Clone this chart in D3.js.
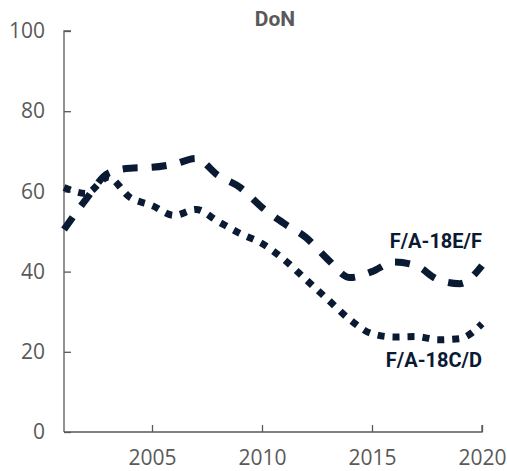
<!DOCTYPE html>
<html>
<head>
<meta charset="utf-8">
<script src="https://cdn.jsdelivr.net/npm/d3@7"></script>
<style>
    body { margin: 0; background: #fff; }
    svg { display: block; }
    .axis path, .axis line { stroke: #595959; stroke-width: 1.3; }
    .axis text { fill: #595959; font-family: "Open Sans", sans-serif; font-size: 21px; }
</style>
</head>
<body>
<svg id="chart" width="507" height="471"></svg>
<script>
const years = [2001, 2002, 2003, 2004, 2005, 2006, 2007, 2008, 2009, 2010,
    2011, 2012, 2013, 2014, 2015, 2016, 2017, 2018, 2019, 2020];
const efValues = [50.5, 58, 64.5, 65.8, 66, 66.8, 68.2, 64, 61, 56,
    52, 48.5, 43, 38.5, 40, 42.4, 41.5, 38, 37, 41.5];
const cdValues = [61, 59.5, 63.5, 58.5, 56.5, 54, 55.5, 52.5, 49.5, 47,
    43, 38, 33, 28, 24.5, 23.7, 23.8, 23, 23.3, 27];
const xTicks = [2005, 2010, 2015, 2020];
const yTicks = [0, 20, 40, 60, 80, 100];

const navy = "#0b1a33";

const margin = { top: 31, right: 25, bottom: 39, left: 64 };
const svg = d3.select("#chart");
const width = +svg.attr("width") - margin.left - margin.right;
const height = +svg.attr("height") - margin.top - margin.bottom;

const chartArea = svg.append("g")
    .attr("transform", `translate(${margin.left},${margin.top})`);

const xScale = d3.scaleLinear().domain([2001, 2020]).range([0, width]);
const yScale = d3.scaleLinear().domain([0, 100]).range([height, 0]);

const xAxis = d3.axisBottom(xScale)
    .tickValues(xTicks)
    .tickFormat(d3.format("d"))
    .tickSizeInner(-7)
    .tickSizeOuter(0)
    .tickPadding(18);
const yAxis = d3.axisLeft(yScale)
    .tickValues(yTicks)
    .tickSizeInner(-7)
    .tickSizeOuter(0)
    .tickPadding(19);

chartArea.append("g")
    .attr("class", "axis x-axis")
    .attr("transform", `translate(0, ${height})`)
    .call(xAxis);

chartArea.append("g")
    .attr("class", "axis y-axis")
    .call(yAxis);

// y axis top tick has a small cap
chartArea.select(".y-axis .domain").attr("d", `M7,0H0V${height}`);
chartArea.select(".x-axis .domain").attr("d", `M0,0H${width}V-7`);

const line = d3.line()
    .x((d, i) => xScale(years[i]))
    .y(d => yScale(d))
    .curve(d3.curveMonotoneX);

chartArea.append("path")
    .datum(efValues)
    .attr("fill", "none")
    .attr("stroke", navy)
    .attr("stroke-width", 7)
    .attr("stroke-dasharray", "15,14")
    .attr("d", line);

chartArea.append("path")
    .datum(cdValues)
    .attr("fill", "none")
    .attr("stroke", navy)
    .attr("stroke-width", 7)
    .attr("stroke-dasharray", "7,8")
    .attr("d", line);

svg.append("text")
    .attr("x", 275)
    .attr("y", 26)
    .attr("text-anchor", "middle")
    .attr("fill", "#595959")
    .attr("font-family", "Roboto, sans-serif")
    .attr("font-weight", "bold")
    .attr("font-size", 21)
    .text("DoN");

svg.append("text")
    .attr("x", 482)
    .attr("y", 248)
    .attr("text-anchor", "end")
    .attr("fill", navy)
    .attr("font-family", "Roboto, sans-serif")
    .attr("font-weight", "bold")
    .attr("font-size", 20)
    .text("F/A-18E/F");

svg.append("text")
    .attr("x", 482)
    .attr("y", 367)
    .attr("text-anchor", "end")
    .attr("fill", navy)
    .attr("font-family", "Roboto, sans-serif")
    .attr("font-weight", "bold")
    .attr("font-size", 20)
    .text("F/A-18C/D");
</script>
</body>
</html>
